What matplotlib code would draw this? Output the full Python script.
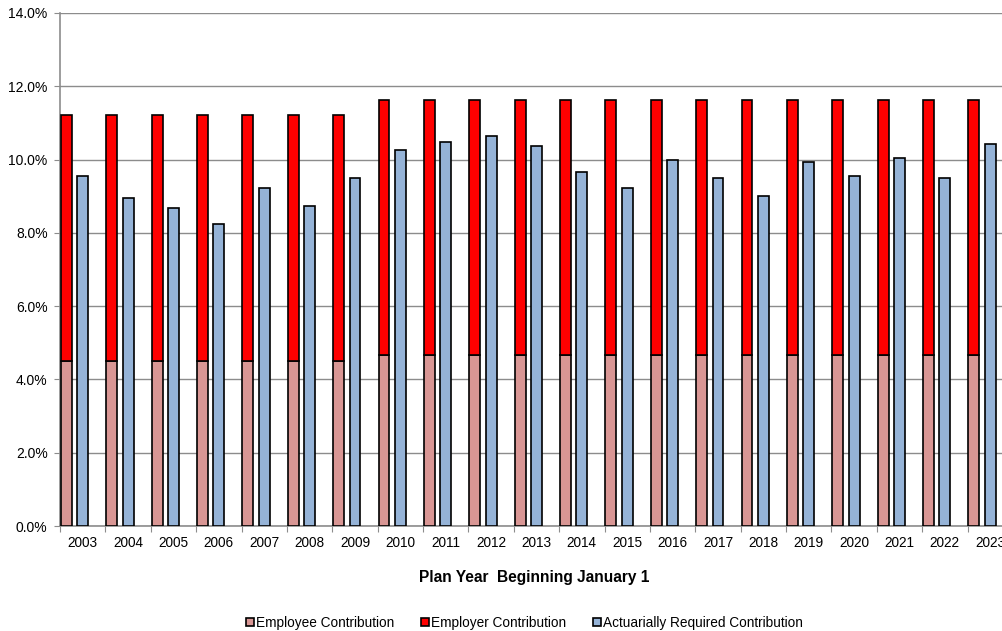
import matplotlib
matplotlib.use("Agg")
import matplotlib.pyplot as plt
import numpy as np
from matplotlib.ticker import PercentFormatter

plt.rcParams["font.family"] = ["Liberation Sans", "DejaVu Sans"]

years = [str(y) for y in range(2003, 2024)]
employee = [4.50] * 7 + [4.68] * 14
total_rate = [11.22] * 7 + [11.62] * 14
employer = [t - e for t, e in zip(total_rate, employee)]
required = [9.55, 8.95, 8.68, 8.25, 9.23, 8.74, 9.50, 10.27, 10.48, 10.64,
            10.37, 9.65, 9.23, 9.98, 9.50, 9.01, 9.93, 9.55, 10.04, 9.50, 10.42]

x = np.arange(len(years))
w = 0.24

fig = plt.figure(figsize=(10.02, 6.31), dpi=100)
ax = fig.add_axes([0.0599, 0.1664, 0.951, 0.813])

ax.bar(x + 0.02, employee, w, align="edge", color="#D99694",
       edgecolor="black", linewidth=1.2, label="Employee Contribution", zorder=3)
ax.bar(x + 0.02, employer, w, bottom=employee, align="edge", color="#FF0000",
       edgecolor="black", linewidth=1.2, label="Employer Contribution", zorder=3)
ax.bar(x + 0.38, required, w, align="edge", color="#95B3D7",
       edgecolor="black", linewidth=1.2, label="Actuarially Required Contribution", zorder=3)

ax.set_xlim(0, len(years))
ax.set_ylim(0, 14)
ax.set_yticks(np.arange(0, 14.1, 2))
ax.yaxis.set_major_formatter(PercentFormatter(decimals=1))
ax.grid(axis="y", color="#8c8c8c", linewidth=1.0, zorder=0)

# ticks at category boundaries, labels at centres
ax.set_xticks(np.arange(len(years) + 1))
ax.set_xticklabels([])
ax.set_xticks(x + 0.5, minor=True)
ax.set_xticklabels(years, minor=True, fontsize=9.8)
ax.tick_params(axis="x", which="major", length=4, color="#8c8c8c")
ax.tick_params(axis="x", which="minor", length=0, pad=7)
ax.tick_params(axis="y", length=4, color="#8c8c8c", labelsize=10, pad=5)

for s in ["top", "right"]:
    ax.spines[s].set_visible(False)
for s in ["left", "bottom"]:
    ax.spines[s].set_color("#8c8c8c")
    ax.spines[s].set_linewidth(1.2)

ax.set_xlabel("Plan Year  Beginning January 1", fontsize=11.2, fontweight="bold")
ax.xaxis.set_label_coords(0.4975, -0.085)

fig.legend(loc="center", bbox_to_anchor=(0.5235, 0.0127), ncol=3, frameon=False,
           fontsize=9.8, handlelength=0.55, handleheight=0.55, handletextpad=0.15,
           columnspacing=2.0)

fig.savefig("out.png", dpi=100)
